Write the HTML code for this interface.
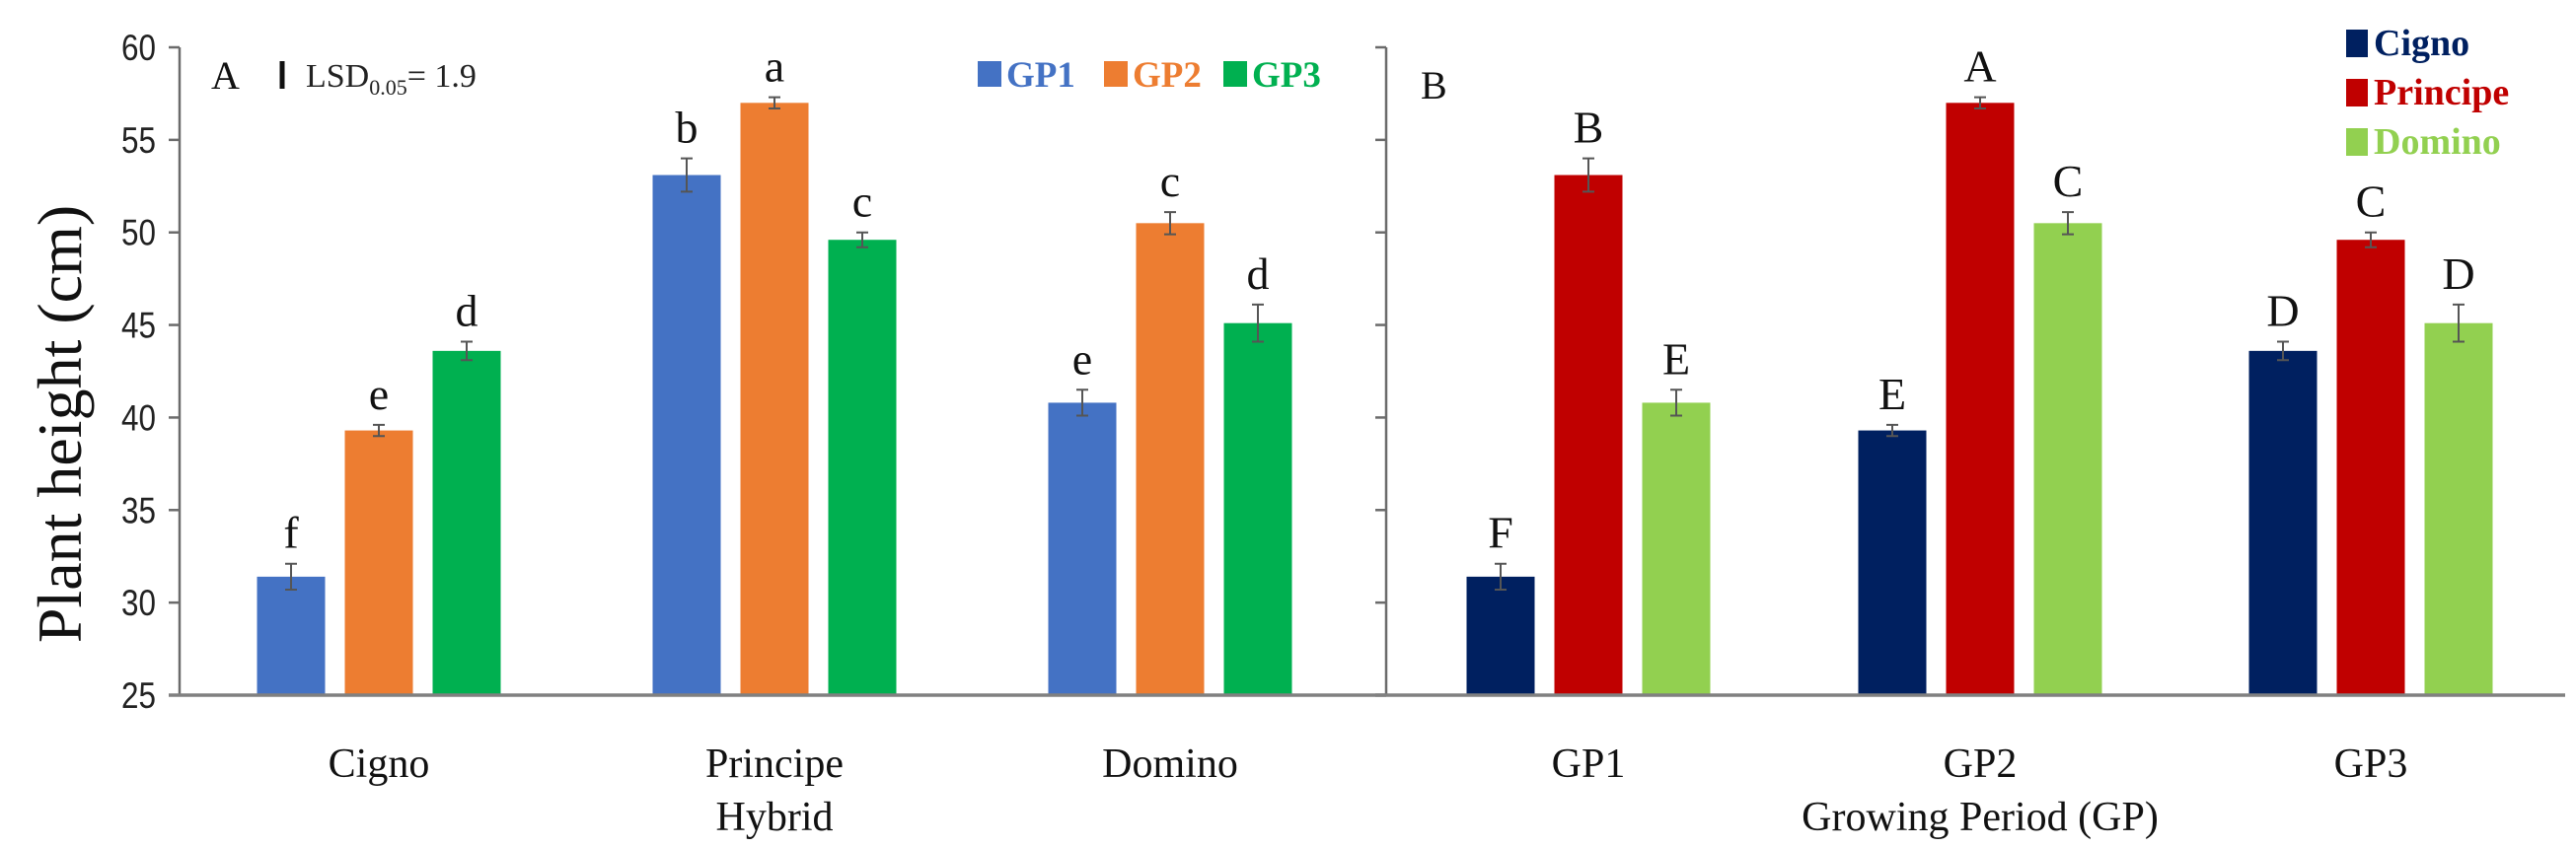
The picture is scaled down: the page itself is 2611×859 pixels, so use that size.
<!DOCTYPE html>
<html><head><meta charset="utf-8"><style>
html,body{margin:0;padding:0;background:#fff;}
svg{display:block;}
text{font-family:"Liberation Serif",serif;}
</style></head><body>
<svg id="chart" width="2611" height="859" viewBox="0 0 2611 859" xmlns="http://www.w3.org/2000/svg"></svg>
<script>
// Panel A: hybrids x growing period
const hybrids = ["Cigno","Principe","Domino"];
const periods = ["GP1","GP2","GP3"];
const valsGP1 = [31.4, 53.1, 40.8];
const valsGP2 = [39.3, 57.0, 50.5];
const valsGP3 = [43.6, 49.6, 45.1];
const errGP1 = [0.7, 0.9, 0.7];
const errGP2 = [0.3, 0.3, 0.6];
const errGP3 = [0.5, 0.4, 1.0];
const lettersA = [["f","b","e"],["e","a","c"],["d","c","d"]];
// Panel B: growing period x hybrids
const valsCigno = [31.4, 39.3, 43.6];
const valsPrincipe = [53.1, 57.0, 49.6];
const valsDomino = [40.8, 50.5, 45.1];
const errCigno = [0.7, 0.3, 0.5];
const errPrincipe = [0.9, 0.3, 0.4];
const errDomino = [0.7, 0.6, 1.0];
const lettersB = [["F","E","D"],["B","A","C"],["E","C","D"]];
const yTicks = [25,30,35,40,45,50,55,60];

const svg = document.getElementById('chart');
const NS = "http://www.w3.org/2000/svg";
function mk(tag, attrs, parent){const e=document.createElementNS(NS,tag);for(const k in attrs)e.setAttribute(k,attrs[k]);(parent||svg).appendChild(e);return e;}
const Y0=705, Y1=48, VMIN=25, VMAX=60;
function y(v){return Y0-(v-VMIN)/(VMAX-VMIN)*(Y0-Y1);}
const BW=69, STEP=89;

function drawPanel(axisX, endX, centers, seriesVals, seriesErr, colors, letters, showLabels, cats, name){
  const g=mk('g',{});
  
  
  const ya=mk('line',{x1:axisX,y1:Y1,x2:axisX,y2:Y0,stroke:'#6b6b6b','stroke-width':2.5},g);
  
  
  yTicks.forEach(t=>{
    const tk=mk('line',{x1:axisX-11,y1:y(t),x2:axisX,y2:y(t),stroke:'#6b6b6b','stroke-width':2.5},g);
    
    
    if(showLabels){
      const tl=mk('text',{x:axisX-24,y:y(t)+13,'text-anchor':'end','font-size':37,fill:'#222',transform:`translate(${axisX-24},0) scale(0.85,1) translate(${-(axisX-24)},0)`,style:'font-family:"Liberation Sans",sans-serif'},g);
      tl.textContent=t;
      
      
    }
  });
  for(let s=0;s<3;s++){
    for(let c=0;c<3;c++){
      const v=seriesVals[s][c], e=seriesErr[s][c];
      const cx=centers[c]+(s-1)*STEP;
      const b=mk('rect',{x:cx-BW/2,y:y(v),width:BW,height:Y0-y(v),fill:colors[s]},g);
      
      
      const eb=mk('path',{d:`M${cx},${y(v+e)}V${y(v-e)}M${cx-6},${y(v+e)}H${cx+6}M${cx-6},${y(v-e)}H${cx+6}`,stroke:'#555','stroke-width':2,fill:'none'},g);
      
      
      const lt=mk('text',{x:cx,y:y(v+e)-16,'text-anchor':'middle','font-size':46,fill:'#111'},g);
      lt.textContent=letters[s][c];
      
      
    }
  }
  const xa=mk('line',{x1:axisX-11,y1:Y0,x2:endX,y2:Y0,stroke:'#808080','stroke-width':3.5},g);
  
  
  cats.forEach((c,i)=>{
    const t=mk('text',{x:centers[i],y:788,'text-anchor':'middle','font-size':42,fill:'#111'},g);
    t.textContent=c;
    
    
  });
}

drawPanel(182,1405,[384,785,1186],[valsGP1,valsGP2,valsGP3],[errGP1,errGP2,errGP3],['#4472C4','#ED7D31','#00B050'],lettersA,true,hybrids,'panel-a');
drawPanel(1405,2600,[1610,2007,2403],[valsCigno,valsPrincipe,valsDomino],[errCigno,errPrincipe,errDomino],['#002060','#C00000','#92D050'],lettersB,false,periods,'panel-b');

function txt(x,yy,s,attrs,name){const t=mk('text',Object.assign({x:x,y:yy},attrs));t.textContent=s;return t;}
txt(0,0,'Plant height (cm)',{'text-anchor':'middle','font-size':64,fill:'#111',transform:'translate(82,430) rotate(-90)'},'y-axis-title');
txt(785,842,'Hybrid',{'text-anchor':'middle','font-size':42,fill:'#111'},'x-axis-title-a');
txt(2007,842,'Growing Period (GP)',{'text-anchor':'middle','font-size':42,fill:'#111'},'x-axis-title-b');
txt(214,90,'A',{'font-size':40,fill:'#111'},'panel-a-label');
txt(1440,100,'B',{'font-size':40,fill:'#111'},'panel-b-label');
const lsd=mk('line',{x1:286,y1:62,x2:286,y2:90,stroke:'#111','stroke-width':5});


const lt=mk('text',{x:310,y:88,'font-size':34,fill:'#222'});
lt.innerHTML='LSD<tspan font-size="22" dy="8">0.05</tspan><tspan dy="-8">= 1.9</tspan>';



const legA=[['GP1','#4472C4',991],['GP2','#ED7D31',1119],['GP3','#00B050',1240]];
legA.forEach(([n,c,x])=>{
  const r=mk('rect',{x:x,y:62,width:24,height:26,fill:c});
  
  
  txt(x+29,88,n,{'font-size':37,'font-weight':'bold',fill:c},'legend-entry');
});
const legB=[['Cigno','#002060',56],['Principe','#C00000',106],['Domino','#92D050',156]];
legB.forEach(([n,c,yy])=>{
  const r=mk('rect',{x:2378,y:yy-26,width:22,height:28,fill:c});
  
  
  txt(2406,yy,n,{'font-size':38,'font-weight':'bold',fill:c},'legend-entry');
});
</script>
</body></html>
